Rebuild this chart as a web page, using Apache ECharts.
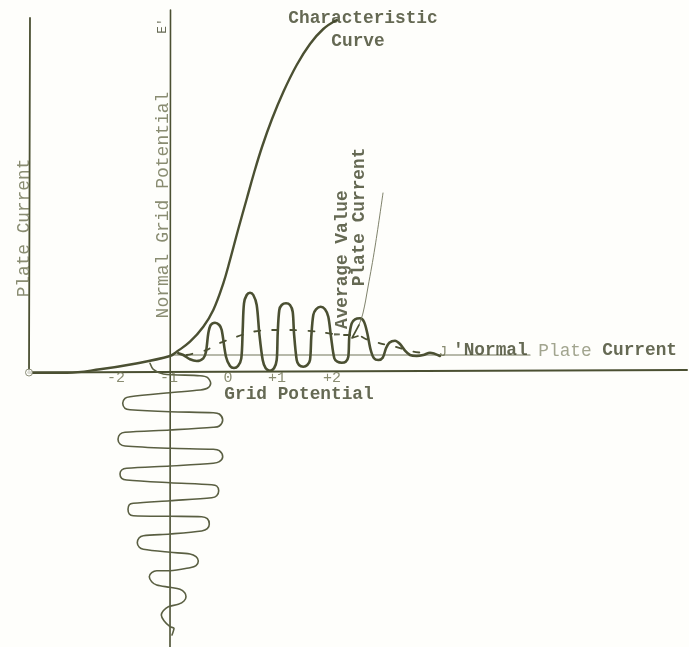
<!DOCTYPE html>
<html>
<head>
<meta charset="utf-8">
<style>html,body{margin:0;padding:0;background:#fefefb}#c{width:689px;height:647px}</style>
<script src="https://cdn.jsdelivr.net/npm/echarts@6/dist/echarts.min.js"></script>
</head>
<body>
<div id="c"></div>
<script>
// Values; both axes are the drawing's own scale, zero at the crossing of the grid axis and the base line.
const characteristicCurve = [[-140.7,-1.7],[-103,-1.7],[-70,1.7],[-36.7,7],[0,15],[6.7,19.3],[20,29.3],[33.3,44.3],[43.3,61],[53.3,87.7],[60,111],[68.3,142],[76.7,172],[84,198],[92,224],[102,252],[113.3,279],[126.7,306],[140,327],[153.3,342],[166.7,351]];
const plateOscillation = [[8.3,17.7],[13.3,16],[20,11.7],[26.7,10],[33.3,12.7],[36,19.3],[38.3,37.7],[40.7,46],[45,48.3],[49.3,46],[51.7,41],[56,14.3],[60,5],[64,3],[68,5],[71.3,12.7],[72.7,41],[74,67.7],[76.7,76],[80,78.3],[83.3,76],[86.7,66],[89.3,37.7],[92.7,11],[95.7,2.7],[100,0.3],[104,2.7],[106.7,11],[107.7,37.7],[109.3,61],[111.7,66],[116,67.7],[120,66],[122.7,59.3],[124,37.7],[126.7,11],[129,6],[133.3,4.3],[137.3,6],[140,11],[141.3,34.3],[143.3,56],[146,61.7],[150.7,64.3],[155,61.7],[158.3,54.3],[161,34.3],[164.3,12.7],[167.3,9.3],[171.7,8.3],[175.7,9.3],[178.3,14.3],[179.3,34.3],[181.7,47.7],[185,51.7],[190,52.7],[194,49.3],[197.3,37.7],[200.7,21],[204,12.7],[208.3,11],[212.7,13.3],[216,22.7],[219.3,28.3],[225,30.3],[230,27],[235,20.3],[240,16],[246.7,15],[253.3,16],[260,18.3],[270,15]];
const averageValue = [[16.7,16],[36.7,21],[45,26],[65,33.7],[83.3,39.3],[100,41],[120,41],[148.3,39.3],[173.3,36],[186.7,36],[196.7,31.7],[210,27.7],[225,24.3],[243.3,19.3],[260,17.7]];
const gridWave = [[-20,7.7],[-16.7,1.7],[-6.7,-3],[30,-4.7],[37.3,-6.3],[40.7,-12.3],[37.3,-17.3],[30,-19],[0,-21.7],[-40,-25.7],[-45,-27.3],[-47.3,-32.3],[-45,-37.3],[-40,-38.7],[0,-40.7],[43.3,-41.7],[49.3,-43],[52.7,-49],[49.3,-55],[43.3,-56.3],[0,-59],[-45,-61.3],[-50,-63.3],[-52,-68.3],[-50,-73],[-45,-75],[0,-77.3],[43.3,-78.3],[49.3,-79.7],[52.7,-85.7],[49.3,-90.7],[43.3,-92.3],[0,-95],[-43.3,-97.3],[-48.3,-99],[-50,-103],[-48.3,-107.3],[-43.3,-109],[0,-111.7],[41.7,-113.7],[46.7,-115],[48.7,-119.7],[46.7,-124.7],[41.7,-126.7],[0,-129.7],[-36.7,-132.3],[-40.7,-133.7],[-42,-138.3],[-40.7,-143],[-36.7,-144.7],[0,-145.3],[31.7,-145.7],[37.3,-147.7],[39.3,-153],[37.3,-157.7],[31.7,-160],[0,-163],[-26.7,-164.7],[-31,-167],[-32.7,-171.7],[-30.7,-176.3],[-26.7,-178.3],[0,-181.3],[20,-183],[26,-185.7],[28.3,-190],[26,-194.7],[20,-196.7],[0,-199.7],[-13.3,-199.7],[-18.3,-201.7],[-20.7,-205.7],[-18.3,-210.7],[-13.3,-214],[0,-216.3],[10,-218.3],[14.7,-221.7],[16,-225.7],[14,-230],[8.3,-233.3],[-1.7,-235.7],[-6.7,-239.7],[-8.7,-244],[-6,-249.7],[0,-255.7],[4,-257.3],[2,-264]];
const pointerLine = [[213,178],[205,124],[198,84],[193,58],[189,46]];
const pointerHead = [[189,46],[182,33],[188,35]];
const plateAxis = [[-141,-1.5],[-140,353]];
const gridAxis = [[0,-276],[0.5,361]];
const baseLine = [[-142,-1.5],[517,1]];
const normalCurrent = [[0,16],[360,16]];
const originMark = [[-141,-1.5]];
const tickLabels = ['-2','-1','0','+1','+2'];
const tickValues = [-54,-1,58,107,162];
const annotations = [
  {text:'Characteristic', at:[193,352], bold:true},
  {text:'Curve', at:[188,329], bold:true},
  {text:"E'", at:[-7,345], size:13, rotate:90},
  {text:'Plate Current', at:[-146,143], rotate:90, faded:true},
  {text:'Normal Grid Potential', at:[-7,166], size:18, rotate:90, faded:true},
  {text:"'Average Value", at:[173,106], rotate:90, bold:true},
  {text:'Plate Current', at:[190,154], rotate:90, bold:true},
  {text:'Grid Potential', at:[129,-24], bold:true},
  {text:'J', at:[273,19], size:14, faded:true},
  {text:"{b|'Normal} {f|Plate} {b|Current}", at:[395,20]}
];
const ink = '#4b5032';
const inkDark = '#3f4429';
const inkFaded = '#6b6f4f';
const chart = echarts.init(document.getElementById('c'));
const line = (data, width, color, smooth, type) => ({
  type:'line', data, smooth, symbol:'none', silent:true, z:2,
  lineStyle:{width, color, type:type||'solid', cap:'round', join:'round'}
});
const mono = '"Liberation Mono","DejaVu Sans Mono",monospace';
const textItem = a => ({
  value:a.at,
  label:{show:true, position:'inside', formatter:a.text, fontSize:a.size||17.8, rotate:a.rotate||0, fontFamily:mono,
    color:a.faded?inkFaded:inkDark, fontWeight:a.bold?'bold':'normal', align:'center', verticalAlign:'middle',
    rich:{b:{fontSize:17.8,fontFamily:mono,color:inkDark,fontWeight:'bold'},f:{fontSize:17.8,fontFamily:mono,color:'#8b8e74'}}}
});
const tickItems = tickLabels.map((t,i)=>({
  value:[tickValues[i],-7],
  label:{show:true, position:'inside', formatter:t, fontSize:15, fontFamily:mono, color:inkFaded, align:'center', verticalAlign:'middle'}
}));
chart.setOption({
  backgroundColor:'#fefefb',
  animation:false,
  grid:{left:0,right:0,top:0,bottom:0},
  xAxis:{type:'value',min:-170,max:519,show:false},
  yAxis:{type:'value',min:-276,max:371,show:false},
  series:[
    line(plateAxis,1.8,ink,false),
    line(gridAxis,1.6,ink,false),
    line(baseLine,2,ink,false),
    line(normalCurrent,1.2,'#70745a',false),
    line(characteristicCurve,2.4,ink,0.4),
    line(gridWave,1.6,'#5a5f42',0.3),
    line(plateOscillation,2.6,ink,0.3),
    line(averageValue,1.8,ink,0.3,[6,12]),
    line(pointerLine,0.9,'#70745a',0.4),
    line(pointerHead,1.6,ink,false),
    {type:'scatter',symbol:'circle',symbolSize:7,silent:true,z:3,data:originMark,itemStyle:{color:'#fefefb',borderColor:'#70745a',borderWidth:1}},
    {type:'scatter',symbolSize:0,silent:true,z:5,data:annotations.map(textItem).concat(tickItems)}
  ]
});
</script>
</body>
</html>
